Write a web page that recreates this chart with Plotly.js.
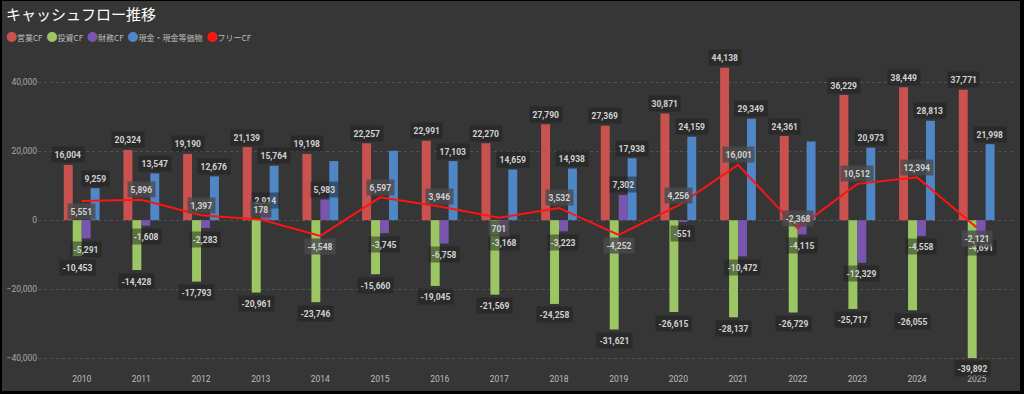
<!DOCTYPE html>
<html><head><meta charset="utf-8">
<script src="https://cdn.plot.ly/plotly-3.0.1.min.js"></script>
<style>
html,body{margin:0;padding:0;background:#000;width:1024px;height:394px;overflow:hidden}
#chart{position:absolute;left:2px;top:1px;width:1018px;height:390px}
</style></head><body><div id="chart"></div>
<script>
// ---- data ----
const years = [2010,2011,2012,2013,2014,2015,2016,2017,2018,2019,2020,2021,2022,2023,2024,2025];
const operatingCF = [16004,20324,19190,21139,19198,22257,22991,22270,27790,27369,30871,44138,24361,36229,38449,37771];
const investingCF = [-10453,-14428,-17793,-20961,-23746,-15660,-19045,-21569,-24258,-31621,-26615,-28137,-26729,-25717,-26055,-39892];
const financingCF = [-5291,-1608,-2283,2914,5983,-3745,-6758,-3168,-3223,7302,-551,-10472,-4115,-12329,-4558,-4691];
const cashEq = [9259,13547,12676,15764,17100,20100,17103,14659,14938,17938,24159,29349,22800,20973,28813,21998];
const freeCF = [5551,5896,1397,178,-4548,6597,3946,701,3532,-4252,4256,16001,-2368,10512,12394,-2121];
const seriesNames = ['営業CF','投資CF','財務CF','現金・現金等価物','フリーCF'];
const yTicks = [-40000,-20000,0,20000,40000];
const titleText = 'キャッシュフロー推移';

// ---- style ----
const colors = ['#c9524f','#9bc663','#7a55b0','#4f86c6','#ff1414'];
const bargap = 0.4;
const hiddenCashLabels = [2014,2015,2022];
const freeLabelBelow = [2010,2014,2017,2019,2025];
const labelFont = {family:'Roboto, sans-serif', size:8.5, color:'#d2d2d2', weight:'bold'};

const barSeries = [operatingCF, investingCF, financingCF, cashEq];
const traces = barSeries.map((vals, i) => ({
  type:'bar', x:years, y:vals, name:seriesNames[i],
  marker:{color:colors[i]}, hoverinfo:'none'
}));
traces.push({type:'scatter', mode:'lines', x:years, y:freeCF, name:seriesNames[4],
  line:{color:colors[4], width:2}, hoverinfo:'none'});

const fmt = v => v.toLocaleString('en-US');
const groupW = 1 - bargap, barW = groupW / barSeries.length;
const annotations = [];
barSeries.forEach((vals, i) => {
  const off = -groupW/2 + (i+0.5)*barW;
  vals.forEach((v, k) => {
    if (i === 3 && hiddenCashLabels.includes(years[k])) return;
    annotations.push({x:years[k]+off, y:v, xref:'x', yref:'y', text:fmt(v), showarrow:false,
      yshift: v >= 0 ? 10 : -11, font:labelFont, bgcolor:'rgba(30,30,30,0.5)', borderpad:2.5});
  });
});
freeCF.forEach((v, k) => {
  const below = freeLabelBelow.includes(years[k]);
  annotations.push({x:years[k], y:v, xref:'x', yref:'y', text:fmt(v), showarrow:false,
    yshift: below ? -11 : 10, font:labelFont, bgcolor:'rgba(75,75,75,0.8)', borderpad:2.5});
});

// custom legend
const legendText = seriesNames.map((n, i) =>
  '<span style="color:' + colors[i] + ';font-size:11px">●</span>' + n).join('\u2002');
annotations.push({xref:'paper', yref:'paper', x:(4-38)/978, y:(371-35)/312, xanchor:'left', yanchor:'middle',
  text:legendText, showarrow:false, font:{family:'Noto Sans CJK JP', size:8, color:'#bdbdbd'}});

const layout = {
  width:1018, height:390,
  paper_bgcolor:'#363636', plot_bgcolor:'#363636',
  margin:{l:36, r:4, t:59, b:19},
  showlegend:false,
  barmode:'group', bargap:bargap, bargroupgap:0,
  title:{text:titleText, font:{family:'Noto Sans CJK JP', size:15, color:'#ffffff'},
    x:4/1018, xref:'container', xanchor:'left', y:1-14/390, yref:'container', yanchor:'middle'},
  xaxis:{range:[2009.268, 2025.659], tickvals:years, ticktext:years.map(String),
    showgrid:false, zeroline:false, showline:false, ticks:'',
    tickfont:{family:'Roboto, sans-serif', size:8.5, color:'#bdbdbd'}},
  yaxis:{range:[-43960, 46370], tickvals:yTicks, tickformat:',d',
    showgrid:true, gridcolor:'#525252', griddash:'dot', gridwidth:1,
    zeroline:false, showline:false, ticks:'',
    tickfont:{family:'Roboto, sans-serif', size:8.5, color:'#a8a8a8'}},
  annotations:annotations
};
Plotly.newPlot('chart', traces, layout, {displayModeBar:false, staticPlot:true});
</script></body></html>
